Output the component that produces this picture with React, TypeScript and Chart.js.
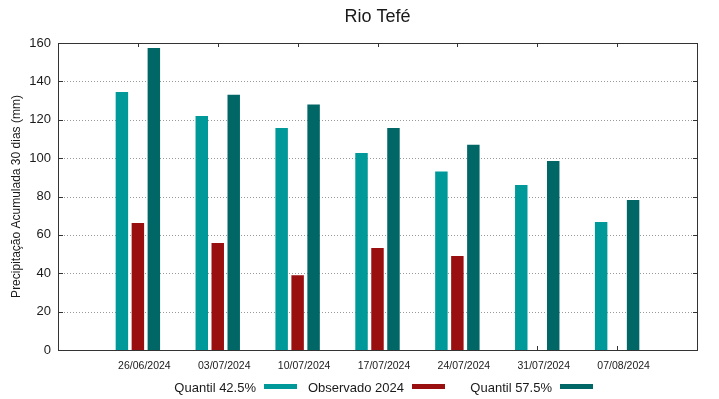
import React, { useEffect, useRef } from 'react';
import { Chart, registerables } from 'chart.js';

Chart.register(...registerables);

const chartTitle = 'Rio Tefé';
const yAxisLabel = 'Precipitação Acumulada 30 dias (mm)';
const dates = ['26/06/2024', '03/07/2024', '10/07/2024', '17/07/2024', '24/07/2024', '31/07/2024', '07/08/2024'];
const seriesNames = ['Quantil 42.5%', 'Observado 2024', 'Quantil 57.5%'];
const quantil425 = [134.5, 122, 115.7, 102.7, 93, 86, 66.7];
const observado2024: (number | null)[] = [66.2, 55.8, 39, 53.2, 49, null, null];
const quantil575 = [157.4, 133, 128, 115.7, 107, 98.5, 78.2];
const yMin = 0;
const yMax = 160;
const yStep = 20;

const colors = ['#009999', '#990e0e', '#006666'];
const FONT = '"Liberation Sans", Arial, sans-serif';
const INK = '#1a1a1a';

const gnuplotLook = {
  id: 'gnuplotLook',
  beforeDatasetsDraw(chart: any) {
    const { ctx, chartArea, scales } = chart;
    const { left, right, top, bottom } = chartArea;
    const x = scales.x;
    const y = scales.y;
    ctx.save();
    // dotted horizontal grid
    ctx.strokeStyle = '#9a9a9a';
    ctx.lineWidth = 1;
    ctx.setLineDash([1, 2]);
    y.ticks.forEach((t: any) => {
      if (t.value <= y.min || t.value >= y.max) return;
      const py = Math.round(y.getPixelForValue(t.value)) + 0.5;
      ctx.beginPath();
      ctx.moveTo(left, py);
      ctx.lineTo(right, py);
      ctx.stroke();
    });
    ctx.setLineDash([]);
    // inward tick marks
    ctx.strokeStyle = '#333333';
    y.ticks.forEach((t: any) => {
      const py = Math.round(y.getPixelForValue(t.value)) + 0.5;
      ctx.beginPath();
      ctx.moveTo(left, py);
      ctx.lineTo(left + 5, py);
      ctx.moveTo(right, py);
      ctx.lineTo(right - 4, py);
      ctx.stroke();
    });
    x.ticks.forEach((t: any) => {
      const px = Math.round(x.getPixelForValue(t.value)) + 0.5;
      ctx.beginPath();
      ctx.moveTo(px, bottom);
      ctx.lineTo(px, bottom - 4);
      ctx.moveTo(px, top);
      ctx.lineTo(px, top + 4);
      ctx.stroke();
    });
    ctx.restore();
  },
  afterDatasetsDraw(chart: any) {
    const { ctx, chartArea } = chart;
    const { left, right, top, bottom } = chartArea;
    ctx.save();
    ctx.strokeStyle = '#333333';
    ctx.lineWidth = 1;
    ctx.strokeRect(Math.round(left) + 0.5, Math.round(top) + 0.5, Math.round(right - left), Math.round(bottom - top));
    ctx.restore();
  },
  afterDraw(chart: any) {
    const { ctx, chartArea } = chart;
    ctx.save();
    // title
    ctx.fillStyle = INK;
    ctx.font = `18px ${FONT}`;
    ctx.textAlign = 'center';
    ctx.textBaseline = 'alphabetic';
    ctx.fillText(chartTitle, (chartArea.left + chartArea.right) / 2, 22);
    // legend (gnuplot style: text then sample)
    ctx.font = `13px ${FONT}`;
    ctx.textAlign = 'right';
    const legendY = 387;
    chart.data.datasets.forEach((ds: any, i: number) => {
      const textRight = 256 + 148 * i;
      ctx.fillStyle = INK;
      ctx.fillText(ds.label, textRight, legendY + 4.5);
      ctx.fillStyle = ds.backgroundColor;
      ctx.fillRect(textRight + 8, legendY - 3, 33, 5);
    });
    ctx.restore();
  },
};

export default function App() {
  const canvasRef = useRef<HTMLCanvasElement | null>(null);

  useEffect(() => {
    document.body.style.margin = '0';
    const canvas = canvasRef.current;
    if (!canvas) return;
    const series = [quantil425, observado2024, quantil575];
    const chart = new Chart(canvas, {
      type: 'bar',
      data: {
        datasets: series.map((vals, si) => ({
          label: seriesNames[si],
          data: vals.map((v, i) => ({ x: i, y: v })),
          backgroundColor: colors[si],
          borderWidth: 0,
          categoryPercentage: 0.6,
          barPercentage: 0.78,
        })),
      },
      options: {
        responsive: false,
        animation: false,
        devicePixelRatio: 1,
        layout: { padding: { left: 0, right: 22, top: 43, bottom: 0 } },
        plugins: {
          legend: { display: false },
          title: { display: false },
          tooltip: { enabled: false },
        },
        scales: {
          x: {
            type: 'linear',
            min: -1,
            max: dates.length,
            offset: false,
            grid: { display: false, drawTicks: false, offset: false },
            border: { display: false },
            afterBuildTicks: (scale: any) => {
              scale.ticks = dates.map((_, i) => ({ value: i }));
            },
            afterFit: (scale: any) => {
              scale.height = 49;
            },
            ticks: {
              autoSkip: false,
              maxRotation: 0,
              padding: 10,
              labelOffset: 6.5,
              color: INK,
              font: { family: FONT, size: 10.5 },
              callback: (v: any) => dates[v] ?? '',
            },
          },
          y: {
            min: yMin,
            max: yMax,
            grid: { display: false, drawTicks: false },
            border: { display: false },
            afterFit: (scale: any) => {
              scale.width = 58;
            },
            ticks: {
              stepSize: yStep,
              padding: 7,
              color: INK,
              font: { family: FONT, size: 13 },
            },
            title: {
              display: true,
              text: yAxisLabel,
              color: INK,
              font: { family: FONT, size: 12 },
              padding: { top: 9, bottom: 0 },
            },
          },
        },
      },
      plugins: [gnuplotLook],
    } as any);
    return () => chart.destroy();
  }, []);

  return (
    <div style={{ width: 719, height: 399 }}>
      <canvas ref={canvasRef} width={719} height={399} />
    </div>
  );
}
